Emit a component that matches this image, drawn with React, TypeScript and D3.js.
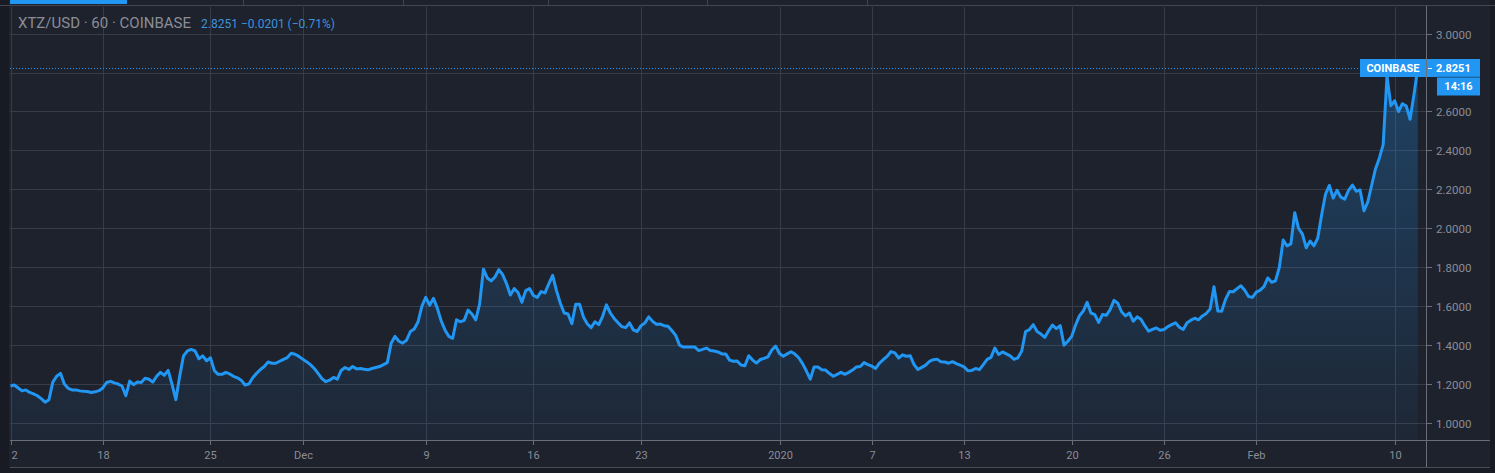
import React from "react";
import * as d3 from "d3";

// ---- data ----
const START = Date.UTC(2019, 10, 12); // first sample, Nov 12 2019 00:00
const STEP_HOURS = 6;
const prices: number[] = [
  1.19, 1.195, 1.18, 1.165, 1.17, 1.157, 1.15, 1.14, 1.125, 1.107,
  1.12, 1.21, 1.24, 1.255, 1.2, 1.178, 1.17, 1.17, 1.165, 1.163,
  1.162, 1.157, 1.16, 1.166, 1.18, 1.208, 1.214, 1.206, 1.2, 1.19,
  1.14, 1.215, 1.197, 1.21, 1.208, 1.23, 1.225, 1.21, 1.24, 1.26,
  1.245, 1.27, 1.2, 1.12, 1.24, 1.345, 1.37, 1.378, 1.37, 1.33,
  1.345, 1.32, 1.335, 1.27, 1.25, 1.25, 1.26, 1.252, 1.24, 1.232,
  1.22, 1.195, 1.2, 1.232, 1.255, 1.275, 1.29, 1.313, 1.307, 1.307,
  1.317, 1.327, 1.336, 1.358, 1.353, 1.342, 1.328, 1.315, 1.3, 1.28,
  1.255, 1.228, 1.212, 1.22, 1.234, 1.225, 1.27, 1.285, 1.275, 1.29,
  1.278, 1.28, 1.276, 1.273, 1.28, 1.285, 1.29, 1.3, 1.31, 1.41,
  1.445, 1.42, 1.41, 1.425, 1.47, 1.483, 1.52, 1.6, 1.645, 1.605,
  1.64, 1.59, 1.525, 1.478, 1.445, 1.435, 1.53, 1.52, 1.527, 1.58,
  1.56, 1.53, 1.61, 1.79, 1.745, 1.73, 1.75, 1.788, 1.762, 1.716,
  1.657, 1.69, 1.67, 1.62, 1.68, 1.69, 1.655, 1.645, 1.675, 1.668,
  1.715, 1.758, 1.68, 1.615, 1.565, 1.56, 1.51, 1.61, 1.61, 1.545,
  1.51, 1.49, 1.52, 1.505, 1.548, 1.607, 1.565, 1.537, 1.515, 1.495,
  1.49, 1.514, 1.478, 1.47, 1.5, 1.514, 1.545, 1.522, 1.507, 1.508,
  1.5, 1.497, 1.475, 1.45, 1.4, 1.39, 1.39, 1.39, 1.39, 1.372,
  1.378, 1.385, 1.372, 1.37, 1.365, 1.355, 1.355, 1.323, 1.317, 1.318,
  1.298, 1.294, 1.345, 1.323, 1.308, 1.326, 1.332, 1.34, 1.375, 1.395,
  1.357, 1.343, 1.355, 1.366, 1.354, 1.335, 1.305, 1.267, 1.225, 1.288,
  1.287, 1.274, 1.272, 1.254, 1.24, 1.25, 1.26, 1.25, 1.26, 1.272,
  1.288, 1.29, 1.31, 1.3, 1.292, 1.28, 1.308, 1.326, 1.342, 1.367,
  1.36, 1.334, 1.35, 1.343, 1.345, 1.3, 1.275, 1.286, 1.297, 1.316,
  1.325, 1.328, 1.314, 1.313, 1.307, 1.315, 1.305, 1.297, 1.288, 1.268,
  1.27, 1.28, 1.274, 1.3, 1.327, 1.337, 1.385, 1.352, 1.365, 1.355,
  1.345, 1.327, 1.335, 1.37, 1.47, 1.48, 1.505, 1.47, 1.457, 1.44,
  1.474, 1.503, 1.485, 1.5, 1.4, 1.42, 1.445, 1.503, 1.55, 1.575,
  1.62, 1.565, 1.557, 1.517, 1.557, 1.553, 1.583, 1.63, 1.615, 1.57,
  1.55, 1.565, 1.523, 1.545, 1.533, 1.5, 1.472, 1.481, 1.488, 1.476,
  1.48, 1.495, 1.505, 1.515, 1.492, 1.48, 1.515, 1.528, 1.538, 1.53,
  1.55, 1.563, 1.586, 1.7, 1.575, 1.574, 1.635, 1.675, 1.674, 1.69,
  1.705, 1.682, 1.65, 1.645, 1.672, 1.682, 1.7, 1.745, 1.723, 1.73,
  1.8, 1.94, 1.91, 1.92, 2.08, 2.0, 1.97, 1.9, 1.935, 1.91,
  1.95, 2.07, 2.175, 2.22, 2.155, 2.195, 2.16, 2.15, 2.195, 2.222,
  2.19, 2.197, 2.09, 2.135, 2.22, 2.305, 2.36, 2.43, 2.78, 2.63,
  2.655, 2.6, 2.64, 2.628, 2.56, 2.685, 2.8251,
];

const xTickDates: number[] = [
  Date.UTC(2019, 10, 12), Date.UTC(2019, 10, 18), Date.UTC(2019, 10, 25),
  Date.UTC(2019, 11, 1), Date.UTC(2019, 11, 9), Date.UTC(2019, 11, 16),
  Date.UTC(2019, 11, 23), Date.UTC(2020, 0, 1), Date.UTC(2020, 0, 7),
  Date.UTC(2020, 0, 13), Date.UTC(2020, 0, 20), Date.UTC(2020, 0, 26),
  Date.UTC(2020, 1, 1), Date.UTC(2020, 1, 10),
];
const xTickLabels: string[] = [
  "12", "18", "25", "Dec", "9", "16", "23", "2020", "7", "13", "20", "26", "Feb", "10",
];
const yTicks: number[] = [1.0, 1.2, 1.4, 1.6, 1.8, 2.0, 2.2, 2.4, 2.6, 2.8, 3.0];

const symbolText = "XTZ/USD · 60 · COINBASE";
const lastPrice = 2.8251;
const change = "−0.0201";
const changePct = "(−0.71%)";
const exchange = "COINBASE";
const countdown = "14:16";

// ---- layout ----
const W = 1495;
const H = 473;
const plotL = 10;
const plotR = 1426;
const plotT = 6;
const plotB = 440;

const BG = "#1e222d";
const GRID = "#383c48";
const AXIS = "#6b6e78";
const TEXT = "#8a8d96";
const BLUE = "#2196f3";
const FONT = "Roboto, 'Noto Sans', sans-serif";

export default function App() {
  const x = d3
    .scaleUtc()
    .domain([Date.UTC(2019, 10, 12), Date.UTC(2020, 1, 10)])
    .range([10.5, 1394.7]);
  const y = d3.scaleLinear().domain([1, 3]).range([423, 33.6]);

  const data = prices.map((p, i) => ({ t: START + i * STEP_HOURS * 3600 * 1000, p }));

  const line = d3
    .line<{ t: number; p: number }>()
    .x((d) => x(d.t))
    .y((d) => y(d.p));
  const area = d3
    .area<{ t: number; p: number }>()
    .x((d) => x(d.t))
    .y0(plotB)
    .y1((d) => y(d.p));

  const lastY = Math.round(y(lastPrice)) + 0.5;
  const fmt = d3.format(".4f");

  return (
    <svg
      width={W}
      height={H}
      style={{ position: "absolute", left: 0, top: 0, display: "block" }}
      fontFamily={FONT}
    >
      <defs>
        <clipPath id="plotClip">
          <rect x={plotL} y={plotT} width={plotR - plotL} height={plotB - plotT} />
        </clipPath>
        <clipPath id="xLabClip">
          <rect x={plotL} y={plotB} width={plotR - plotL} height={30} />
        </clipPath>
        <linearGradient id="areaGrad" gradientUnits="userSpaceOnUse" x1={0} y1={lastY} x2={0} y2={plotB}>
          <stop offset="0%" stopColor={BLUE} stopOpacity={0.28} />
          <stop offset="100%" stopColor={BLUE} stopOpacity={0.04} />
        </linearGradient>
      </defs>

      {/* background */}
      <rect x={0} y={0} width={W} height={H} fill={BG} />
      <rect x={0} y={0} width={plotL - 1} height={H} fill="#181b24" />
      <rect x={1490} y={0} width={5} height={H} fill="#181b24" />
      <rect x={0} y={468} width={W} height={5} fill="#181b24" />

      {/* top tab bar */}
      <rect x={10} y={0} width={117} height={4} fill={BLUE} />
      <line x1={0} x2={W} y1={5.5} y2={5.5} stroke="#434651" />
      {[243, 403, 548, 707, 867].map((sx) => (
        <line key={sx} x1={sx + 0.5} x2={sx + 0.5} y1={0} y2={5} stroke="#434651" />
      ))}

      {/* grid */}
      <g>
        {yTicks.map((v) => (
          <line
            key={"gy" + v}
            x1={plotL}
            x2={plotR}
            y1={Math.round(y(v)) + 0.5}
            y2={Math.round(y(v)) + 0.5}
            stroke={GRID}
          />
        ))}
        {xTickDates.map((d) => (
          <line
            key={"gx" + d}
            x1={Math.round(x(d)) + 0.5}
            x2={Math.round(x(d)) + 0.5}
            y1={plotT + 1}
            y2={plotB}
            stroke={GRID}
          />
        ))}
      </g>

      {/* series */}
      <g clipPath="url(#plotClip)">
        <path d={area(data) || ""} fill="url(#areaGrad)" />
        <path d={line(data) || ""} fill="none" stroke={BLUE} strokeWidth={3} strokeLinejoin="round" />
      </g>

      {/* last price line */}
      <line
        x1={plotL}
        x2={1360}
        y1={lastY}
        y2={lastY}
        stroke={BLUE}
        strokeDasharray="1 2"
      />

      {/* axes */}
      <line x1={plotL} x2={1490} y1={plotB + 0.5} y2={plotB + 0.5} stroke={AXIS} />
      <line x1={plotL} x2={1490} y1={467.5} y2={467.5} stroke="#4a4d57" />
      <line x1={plotR + 0.5} x2={plotR + 0.5} y1={plotT} y2={467} stroke={AXIS} />

      {/* y axis ticks & labels (labels hidden under the last-price tag) */}
      <g>
        {yTicks.map((v) => {
          const yy = Math.round(y(v)) + 0.5;
          const hidden = Math.abs(yy - lastY) < 14;
          return (
            <g key={"yt" + v}>
              <line x1={plotR + 1} x2={plotR + 6} y1={yy} y2={yy} stroke={AXIS} />
              {!hidden && (
                <text x={1436} y={yy} dy="0.35em" fontSize={11.5} fill={TEXT}>
                  {fmt(v)}
                </text>
              )}
            </g>
          );
        })}
      </g>

      {/* x axis ticks & labels */}
      <g clipPath="url(#xLabClip)">
        {xTickDates.map((d, i) => {
          const xx = Math.round(x(d)) + 0.5;
          return (
            <g key={"xt" + d}>
              <line x1={xx} x2={xx} y1={plotB} y2={plotB + 5} stroke={AXIS} />
              <text x={xx} y={459} textAnchor="middle" fontSize={11} fill={TEXT}>
                {xTickLabels[i]}
              </text>
            </g>
          );
        })}
      </g>

      {/* legend */}
      <text x={18} y={28} fontSize={15} fill={TEXT}>
        {symbolText}
      </text>
      <text x={201} y={28} fontSize={12} fill="#3d92dc">
        {fmt(lastPrice)} {change} {changePct}
      </text>

      {/* price labels on right */}
      <rect x={1360} y={lastY - 9.5} width={66} height={18} fill={BLUE} />
      <text x={1393} y={lastY} dy="0.35em" textAnchor="middle" fontSize={11} fontWeight="bold" fill="#ffffff">
        {exchange}
      </text>
      <rect x={1427} y={lastY - 9.5} width={53} height={18} fill={BLUE} />
      <line x1={1428} x2={1432} y1={lastY} y2={lastY} stroke="#ffffff" />
      <text x={1436} y={lastY} dy="0.35em" fontSize={11} fontWeight="bold" fill="#ffffff">
        {fmt(lastPrice)}
      </text>
      <rect x={1437} y={lastY + 9} width={43} height={18} fill={BLUE} />
      <line x1={1437} x2={1480} y1={lastY + 8.5} y2={lastY + 8.5} stroke="#1a6fb5" />
      <text x={1458.5} y={lastY + 18} dy="0.35em" textAnchor="middle" fontSize={11} fontWeight="bold" fill="#ffffff">
        {countdown}
      </text>
    </svg>
  );
}
